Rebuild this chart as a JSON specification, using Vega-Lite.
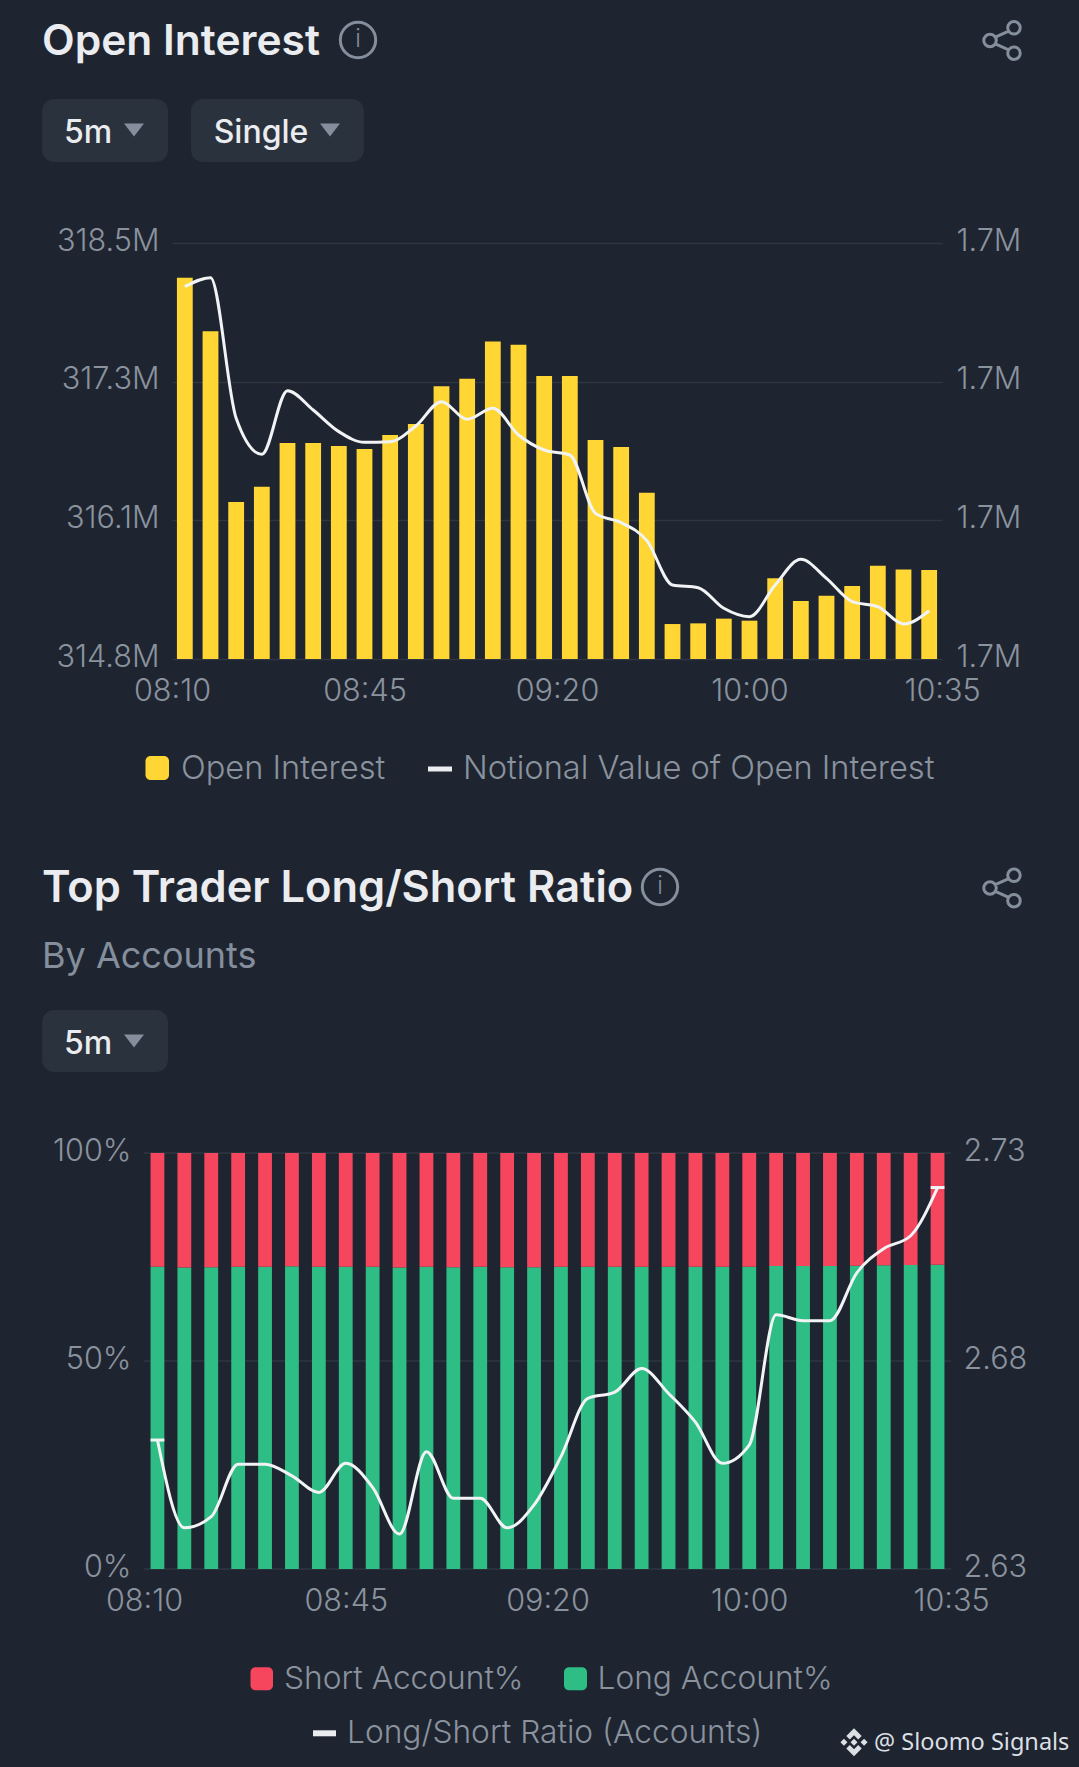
{"$schema":"https://vega.github.io/schema/vega-lite/v6.json","background":"#1e2530","padding":0,"autosize":{"type":"pad"},"bounds":"full","align":"none","spacing":0,"config":{"view":{"stroke":null},"font":"Inter","text":{"font":"Inter"},"axis":{"labelFont":"Inter","labelFontWeight":300,"labelFontSize":30.6,"labelColor":"#8a929e","domain":false,"ticks":false,"title":null}},
"datasets":{"oi":[
{"time":"08:10","openInterest":318232000,"notional":1732130},{"time":"08:15","openInterest":317754000,"notional":1733750},{"time":"08:20","openInterest":316236000,"notional":1708390},{"time":"08:25","openInterest":316373000,"notional":1701900},{"time":"08:30","openInterest":316761000,"notional":1713380},{"time":"08:35","openInterest":316761000,"notional":1709890},{"time":"08:40","openInterest":316734000,"notional":1705990},{"time":"08:45","openInterest":316708000,"notional":1704060},{"time":"08:50","openInterest":316832000,"notional":1704180},{"time":"08:55","openInterest":316930000,"notional":1707010},{"time":"09:00","openInterest":317265000,"notional":1711400},{"time":"09:05","openInterest":317333000,"notional":1708210},{"time":"09:10","openInterest":317665000,"notional":1710190},{"time":"09:15","openInterest":317636000,"notional":1705390},{"time":"09:20","openInterest":317357000,"notional":1702680},{"time":"09:25","openInterest":317357000,"notional":1701780},{"time":"09:30","openInterest":316788000,"notional":1691260},{"time":"09:35","openInterest":316726000,"notional":1689580},{"time":"09:40","openInterest":316319000,"notional":1686340},{"time":"09:45","openInterest":315151000,"notional":1678340},{"time":"09:50","openInterest":315157000,"notional":1677860},{"time":"09:55","openInterest":315199000,"notional":1674140},{"time":"10:00","openInterest":315181000,"notional":1672630},{"time":"10:05","openInterest":315558000,"notional":1678340},{"time":"10:10","openInterest":315356000,"notional":1682970},{"time":"10:15","openInterest":315403000,"notional":1679540},{"time":"10:20","openInterest":315489000,"notional":1675340},{"time":"10:25","openInterest":315670000,"notional":1674440},{"time":"10:30","openInterest":315635000,"notional":1671310},{"time":"10:35","openInterest":315632000,"notional":1673710}],
"ratio":[
{"time":"08:10","ratio":2.6610},{"time":"08:15","ratio":2.6399},{"time":"08:20","ratio":2.6426},{"time":"08:25","ratio":2.6552},{"time":"08:30","ratio":2.6552},{"time":"08:35","ratio":2.6524},{"time":"08:40","ratio":2.6484},{"time":"08:45","ratio":2.6554},{"time":"08:50","ratio":2.6496},{"time":"08:55","ratio":2.6384},{"time":"09:00","ratio":2.6582},{"time":"09:05","ratio":2.6470},{"time":"09:10","ratio":2.6470},{"time":"09:15","ratio":2.6399},{"time":"09:20","ratio":2.6454},{"time":"09:25","ratio":2.6570},{"time":"09:30","ratio":2.6710},{"time":"09:35","ratio":2.6725},{"time":"09:40","ratio":2.6782},{"time":"09:45","ratio":2.6722},{"time":"09:50","ratio":2.6653},{"time":"09:55","ratio":2.6554},{"time":"10:00","ratio":2.6598},{"time":"10:05","ratio":2.6911},{"time":"10:10","ratio":2.6897},{"time":"10:15","ratio":2.6897},{"time":"10:20","ratio":2.7012},{"time":"10:25","ratio":2.7070},{"time":"10:30","ratio":2.7101},{"time":"10:35","ratio":2.7217}],
"accounts":[
{"time":"08:10","series":"Long Account%","pct":72.68},{"time":"08:15","series":"Long Account%","pct":72.45},{"time":"08:20","series":"Long Account%","pct":72.52},{"time":"08:25","series":"Long Account%","pct":72.68},{"time":"08:30","series":"Long Account%","pct":72.68},{"time":"08:35","series":"Long Account%","pct":72.76},{"time":"08:40","series":"Long Account%","pct":72.68},{"time":"08:45","series":"Long Account%","pct":72.68},{"time":"08:50","series":"Long Account%","pct":72.68},{"time":"08:55","series":"Long Account%","pct":72.45},{"time":"09:00","series":"Long Account%","pct":72.68},{"time":"09:05","series":"Long Account%","pct":72.52},{"time":"09:10","series":"Long Account%","pct":72.68},{"time":"09:15","series":"Long Account%","pct":72.52},{"time":"09:20","series":"Long Account%","pct":72.52},{"time":"09:25","series":"Long Account%","pct":72.68},{"time":"09:30","series":"Long Account%","pct":72.68},{"time":"09:35","series":"Long Account%","pct":72.68},{"time":"09:40","series":"Long Account%","pct":72.68},{"time":"09:45","series":"Long Account%","pct":72.68},{"time":"09:50","series":"Long Account%","pct":72.68},{"time":"09:55","series":"Long Account%","pct":72.68},{"time":"10:00","series":"Long Account%","pct":72.68},{"time":"10:05","series":"Long Account%","pct":72.84},{"time":"10:10","series":"Long Account%","pct":72.84},{"time":"10:15","series":"Long Account%","pct":72.84},{"time":"10:20","series":"Long Account%","pct":72.92},{"time":"10:25","series":"Long Account%","pct":73.0},{"time":"10:30","series":"Long Account%","pct":73.08},{"time":"10:35","series":"Long Account%","pct":73.16},
{"time":"08:10","series":"Short Account%","pct":27.32},{"time":"08:15","series":"Short Account%","pct":27.55},{"time":"08:20","series":"Short Account%","pct":27.48},{"time":"08:25","series":"Short Account%","pct":27.32},{"time":"08:30","series":"Short Account%","pct":27.32},{"time":"08:35","series":"Short Account%","pct":27.24},{"time":"08:40","series":"Short Account%","pct":27.32},{"time":"08:45","series":"Short Account%","pct":27.32},{"time":"08:50","series":"Short Account%","pct":27.32},{"time":"08:55","series":"Short Account%","pct":27.55},{"time":"09:00","series":"Short Account%","pct":27.32},{"time":"09:05","series":"Short Account%","pct":27.48},{"time":"09:10","series":"Short Account%","pct":27.32},{"time":"09:15","series":"Short Account%","pct":27.48},{"time":"09:20","series":"Short Account%","pct":27.48},{"time":"09:25","series":"Short Account%","pct":27.32},{"time":"09:30","series":"Short Account%","pct":27.32},{"time":"09:35","series":"Short Account%","pct":27.32},{"time":"09:40","series":"Short Account%","pct":27.32},{"time":"09:45","series":"Short Account%","pct":27.32},{"time":"09:50","series":"Short Account%","pct":27.32},{"time":"09:55","series":"Short Account%","pct":27.32},{"time":"10:00","series":"Short Account%","pct":27.32},{"time":"10:05","series":"Short Account%","pct":27.16},{"time":"10:10","series":"Short Account%","pct":27.16},{"time":"10:15","series":"Short Account%","pct":27.16},{"time":"10:20","series":"Short Account%","pct":27.08},{"time":"10:25","series":"Short Account%","pct":27.0},{"time":"10:30","series":"Short Account%","pct":26.92},{"time":"10:35","series":"Short Account%","pct":26.84}]},
"vconcat":[
{"width":907,"height":226,
"data":{"values":[{"slot":0,"kind":"title","label":"Open Interest"},{"slot":1,"kind":"info","label":"i"},{"slot":2,"kind":"share"},{"slot":3,"kind":"btn","label":"5m"},{"slot":4,"kind":"btn","label":"Single"},{"slot":5,"kind":"tri"},{"slot":6,"kind":"tri"},{"slot":7,"slotEnd":8,"kind":"box"},{"slot":9,"slotEnd":10,"kind":"box"}]},
"encoding":{"x":{"field":"slot","type":"quantitative","axis":null,"scale":{"domain":[0,1,2,3,4,5,6,7,8,9,10],"range":[-130,186,830,-84,89,-38,158,-129.8,-4,19,191.8],"zero":false,"nice":false}},"y":{"field":"slot","type":"quantitative","axis":null,"scale":{"domain":[0,1,2,3,4,5,6,7,8,9,10],"range":[42,40,40.5,133,133,130,130,99,162,99,162],"zero":false,"nice":false}}},
"layer":[
{"transform":[{"filter":"datum.kind==='box'"}],"mark":{"type":"rect","color":"#2a323e","cornerRadius":12},"encoding":{"x2":{"field":"slotEnd"},"y2":{"field":"slotEnd"}}},
{"transform":[{"filter":"datum.kind==='title'"}],"mark":{"type":"text","align":"left","baseline":"middle","fontSize":42.5,"fontWeight":600,"color":"#eaecef"},"encoding":{"text":{"field":"label"}}},
{"transform":[{"filter":"datum.kind==='btn'"}],"mark":{"type":"text","align":"center","baseline":"middle","fontSize":32,"fontWeight":500,"color":"#eaecef"},"encoding":{"text":{"field":"label"}}},
{"transform":[{"filter":"datum.kind==='info'"}],"mark":{"type":"point","shape":"circle","size":1250,"filled":false,"stroke":"#848e9c","strokeWidth":3,"opacity":1}},
{"transform":[{"filter":"datum.kind==='info'"}],"mark":{"type":"text","align":"center","baseline":"middle","fontSize":24,"fontWeight":300,"color":"#848e9c"},"encoding":{"text":{"field":"label"}}},
{"transform":[{"filter":"datum.kind==='tri'"}],"mark":{"type":"point","shape":"M -1 -0.65 L 1 -0.65 L 0 0.65 Z","size":400,"filled":true,"fill":"#848e9c","opacity":1}},
{"transform":[{"filter":"datum.kind==='share'"}],"mark":{"type":"point","filled":false,"stroke":"#848e9c","strokeWidth":3,"opacity":1,"size":1444,"shape":"M -0.3 0 C -0.3 0.18 -0.45 0.33 -0.63 0.33 C -0.81 0.33 -0.96 0.18 -0.96 0 C -0.96 -0.18 -0.81 -0.33 -0.63 -0.33 C -0.45 -0.33 -0.3 -0.18 -0.3 0 Z M 0.96 -0.67 C 0.96 -0.49 0.81 -0.34 0.63 -0.34 C 0.45 -0.34 0.3 -0.49 0.3 -0.67 C 0.3 -0.85 0.45 -1 0.63 -1 C 0.81 -1 0.96 -0.85 0.96 -0.67 Z M 0.96 0.67 C 0.96 0.85 0.81 1 0.63 1 C 0.45 1 0.3 0.85 0.3 0.67 C 0.3 0.49 0.45 0.34 0.63 0.34 C 0.81 0.34 0.96 0.49 0.96 0.67 Z M -0.35 -0.18 L 0.35 -0.49 M -0.35 0.18 L 0.35 0.49"}}
]},
{"width":770,"height":416,"resolve":{"scale":{"x":"independent","y":"independent"}},
"layer":[
{"data":{"name":"oi"},"mark":{"type":"bar","color":"#ffd633","width":15.8,"clip":true},"encoding":{"x":{"field":"time","type":"ordinal","sort":null,"axis":null,"scale":{"type":"band","paddingInner":0,"paddingOuter":0}},"y":{"field":"openInterest","type":"quantitative","stack":null,"scale":{"domain":[314840000,318540000],"zero":false,"nice":false},"axis":{"orient":"left","values":[314840000,316073333,317306667,318540000],"format":".4s","gridColor":"#2e3642","grid":true,"gridWidth":1.5,"labelPadding":13,"minExtent":172,"maxExtent":172,"labelOffset":-2}}}},
{"data":{"name":"oi"},"mark":{"type":"line","color":"#f2f3f5","strokeWidth":3,"interpolate":"monotone"},"encoding":{"x":{"field":"time","type":"ordinal","sort":null,"axis":null,"scale":{"type":"point","padding":0.5}},"y":{"field":"notional","type":"quantitative","scale":{"domain":[1665000,1740000],"zero":false,"nice":false},"axis":{"orient":"right","values":[1665000,1690000,1715000,1740000],"format":".2s","grid":false,"labelPadding":14,"labelOffset":-2}}}},
{"data":{"values":[{"tick":"08:10"},{"tick":"08:45"},{"tick":"09:20"},{"tick":"10:00"},{"tick":"10:35"}]},"mark":{"type":"text","text":""},"encoding":{"x":{"field":"tick","type":"ordinal","sort":null,"scale":{"type":"point","padding":0},"axis":{"orient":"bottom","labelAngle":0,"labelAlign":"center","labelPadding":17,"labelOverlap":false,"labelFlush":false,"minExtent":60,"maxExtent":60,"grid":false}}}}
]},
{"width":907,"height":416.7,
"data":{"values":[{"slot":0,"slotEnd":1,"kind":"chipYellow"},{"slot":2,"kind":"legend","label":"Open Interest"},{"slot":3,"slotEnd":4,"kind":"dash"},{"slot":5,"kind":"legend","label":"Notional Value of Open Interest"},{"slot":6,"kind":"title","label":"Top Trader Long/Short Ratio"},{"slot":7,"kind":"info","label":"i"},{"slot":8,"kind":"share"},{"slot":9,"kind":"sub","label":"By Accounts"},{"slot":10,"slotEnd":11,"kind":"box"},{"slot":12,"kind":"btn","label":"5m"},{"slot":13,"kind":"tri"}]},
"encoding":{"x":{"field":"slot","type":"quantitative","axis":null,"scale":{"domain":[0,1,2,3,4,5,6,7,8,9,10,11,12,13],"range":[-26.5,-3,9,256,280,291,-130,488,830,-130,-129.8,-4,-84,-38],"zero":false,"nice":false}},"y":{"field":"slot","type":"quantitative","axis":null,"scale":{"domain":[0,1,2,3,4,5,6,7,8,9,10,11,12,13],"range":[37,61,50,47.5,52.5,50,170,168,169,238,291,353,325,322],"zero":false,"nice":false}}},
"layer":[
{"transform":[{"filter":"datum.kind==='box'"}],"mark":{"type":"rect","color":"#2a323e","cornerRadius":12},"encoding":{"x2":{"field":"slotEnd"},"y2":{"field":"slotEnd"}}},
{"transform":[{"filter":"datum.kind==='chipYellow'"}],"mark":{"type":"rect","color":"#ffd633","cornerRadius":5},"encoding":{"x2":{"field":"slotEnd"},"y2":{"field":"slotEnd"}}},
{"transform":[{"filter":"datum.kind==='dash'"}],"mark":{"type":"rect","color":"#eaecef"},"encoding":{"x2":{"field":"slotEnd"},"y2":{"field":"slotEnd"}}},
{"transform":[{"filter":"datum.kind==='legend'"}],"mark":{"type":"text","align":"left","baseline":"middle","fontSize":32.6,"fontWeight":300,"color":"#8a929e"},"encoding":{"text":{"field":"label"}}},
{"transform":[{"filter":"datum.kind==='title'"}],"mark":{"type":"text","align":"left","baseline":"middle","fontSize":43.4,"fontWeight":600,"color":"#eaecef"},"encoding":{"text":{"field":"label"}}},
{"transform":[{"filter":"datum.kind==='sub'"}],"mark":{"type":"text","align":"left","baseline":"middle","fontSize":36,"fontWeight":400,"color":"#848e9c"},"encoding":{"text":{"field":"label"}}},
{"transform":[{"filter":"datum.kind==='btn'"}],"mark":{"type":"text","align":"center","baseline":"middle","fontSize":32,"fontWeight":500,"color":"#eaecef"},"encoding":{"text":{"field":"label"}}},
{"transform":[{"filter":"datum.kind==='info'"}],"mark":{"type":"point","shape":"circle","size":1250,"filled":false,"stroke":"#848e9c","strokeWidth":3,"opacity":1}},
{"transform":[{"filter":"datum.kind==='info'"}],"mark":{"type":"text","align":"center","baseline":"middle","fontSize":24,"fontWeight":300,"color":"#848e9c"},"encoding":{"text":{"field":"label"}}},
{"transform":[{"filter":"datum.kind==='tri'"}],"mark":{"type":"point","shape":"M -1 -0.65 L 1 -0.65 L 0 0.65 Z","size":400,"filled":true,"fill":"#848e9c","opacity":1}},
{"transform":[{"filter":"datum.kind==='share'"}],"mark":{"type":"point","filled":false,"stroke":"#848e9c","strokeWidth":3,"opacity":1,"size":1444,"shape":"M -0.3 0 C -0.3 0.18 -0.45 0.33 -0.63 0.33 C -0.81 0.33 -0.96 0.18 -0.96 0 C -0.96 -0.18 -0.81 -0.33 -0.63 -0.33 C -0.45 -0.33 -0.3 -0.18 -0.3 0 Z M 0.96 -0.67 C 0.96 -0.49 0.81 -0.34 0.63 -0.34 C 0.45 -0.34 0.3 -0.49 0.3 -0.67 C 0.3 -0.85 0.45 -1 0.63 -1 C 0.81 -1 0.96 -0.85 0.96 -0.67 Z M 0.96 0.67 C 0.96 0.85 0.81 1 0.63 1 C 0.45 1 0.3 0.85 0.3 0.67 C 0.3 0.49 0.45 0.34 0.63 0.34 C 0.81 0.34 0.96 0.49 0.96 0.67 Z M -0.35 -0.18 L 0.35 -0.49 M -0.35 0.18 L 0.35 0.49"}}
]},
{"width":779,"height":416,"resolve":{"scale":{"x":"independent","y":"independent"}},
"layer":[
{"data":{"values":[{"level":0},{"level":50},{"level":100}]},"mark":{"type":"rule","color":"#2e3642","strokeWidth":1.5},"encoding":{"x":{"datum":0,"type":"quantitative","axis":null,"scale":{"domain":[0,1],"range":[-28,779]}},"x2":{"datum":1},"y":{"field":"level","type":"quantitative","axis":null,"scale":{"domain":[0,100],"nice":false}}}},
{"data":{"name":"accounts"},"mark":{"type":"bar","width":13.8},"encoding":{"x":{"field":"time","type":"ordinal","sort":null,"axis":null,"scale":{"type":"band","paddingInner":0,"paddingOuter":0,"range":[-28,779]}},"y":{"field":"pct","type":"quantitative","stack":"zero","scale":{"domain":[0,100],"nice":false},"axis":{"orient":"left","values":[0,50,100],"labelExpr":"datum.value+'%'","grid":false,"labelPadding":41,"minExtent":172,"maxExtent":172,"labelOffset":-2}},"color":{"field":"series","type":"nominal","legend":null,"scale":{"domain":["Short Account%","Long Account%"],"range":["#f6465d","#2ebd85"]}},"order":{"field":"pct","sort":"descending"}}},
{"data":{"name":"ratio"},"mark":{"type":"line","color":"#f2f3f5","strokeWidth":3,"interpolate":"monotone"},"encoding":{"x":{"field":"time","type":"ordinal","sort":null,"axis":null,"scale":{"type":"point","padding":0.5,"range":[-28,779]}},"y":{"field":"ratio","type":"quantitative","scale":{"domain":[2.63,2.73],"zero":false,"nice":false},"axis":{"orient":"right","values":[2.63,2.68,2.73],"format":".2f","grid":false,"labelPadding":12,"labelOffset":-2}}}},
{"data":{"name":"ratio"},"transform":[{"filter":"datum.time==='08:10'||datum.time==='10:35'"}],"mark":{"type":"tick","color":"#f2f3f5","size":13.8,"thickness":3,"opacity":1},"encoding":{"x":{"field":"time","type":"ordinal","sort":null,"axis":null,"scale":{"type":"point","padding":0,"range":[-14.55,765.55]}},"y":{"field":"ratio","type":"quantitative","axis":null,"scale":{"domain":[2.63,2.73],"zero":false,"nice":false}}}},
{"data":{"values":[{"tick":"08:10"},{"tick":"08:45"},{"tick":"09:20"},{"tick":"10:00"},{"tick":"10:35"}]},"mark":{"type":"text","text":""},"encoding":{"x":{"field":"tick","type":"ordinal","sort":null,"scale":{"type":"point","padding":0,"range":[-28,779]},"axis":{"orient":"bottom","labelAngle":0,"labelAlign":"center","labelPadding":17,"labelOverlap":false,"labelFlush":false,"minExtent":60,"maxExtent":60,"grid":false}}}}
]},
{"width":907,"height":138,
"data":{"values":[{"slot":0,"slotEnd":1,"kind":"chipRed"},{"slot":2,"kind":"legend","label":"Short Account%"},{"slot":3,"slotEnd":4,"kind":"chipGreen"},{"slot":5,"kind":"legend","label":"Long Account%"},{"slot":6,"slotEnd":7,"kind":"dash"},{"slot":8,"kind":"legend","label":"Long/Short Ratio (Accounts)"},{"slot":9,"kind":"logo"},{"slot":10,"kind":"mark","label":"@ Sloomo Signals"}]},
"encoding":{"x":{"field":"slot","type":"quantitative","axis":null,"scale":{"domain":[0,1,2,3,4,5,6,7,8,9,10],"range":[78.5,101,112,392,415,425.5,141,164,175,682,702],"zero":false,"nice":false}},"y":{"field":"slot","type":"quantitative","axis":null,"scale":{"domain":[0,1,2,3,4,5,6,7,8,9,10],"range":[38.3,61.3,50.3,38.3,61.3,50.3,101.3,107.3,104.3,113.3,114.3],"zero":false,"nice":false}}},
"layer":[
{"transform":[{"filter":"datum.kind==='chipRed'"}],"mark":{"type":"rect","color":"#f6465d","cornerRadius":5},"encoding":{"x2":{"field":"slotEnd"},"y2":{"field":"slotEnd"}}},
{"transform":[{"filter":"datum.kind==='chipGreen'"}],"mark":{"type":"rect","color":"#2ebd85","cornerRadius":5},"encoding":{"x2":{"field":"slotEnd"},"y2":{"field":"slotEnd"}}},
{"transform":[{"filter":"datum.kind==='dash'"}],"mark":{"type":"rect","color":"#eaecef"},"encoding":{"x2":{"field":"slotEnd"},"y2":{"field":"slotEnd"}}},
{"transform":[{"filter":"datum.kind==='legend'"}],"mark":{"type":"text","align":"left","baseline":"middle","fontSize":31.7,"fontWeight":300,"color":"#8a929e"},"encoding":{"text":{"field":"label"}}},
{"transform":[{"filter":"datum.kind==='mark'"}],"mark":{"type":"text","align":"left","baseline":"middle","font":"Noto Sans","fontSize":23.5,"color":"#dcdfe3"},"encoding":{"text":{"field":"label"}}},
{"transform":[{"filter":"datum.kind==='logo'"}],"mark":{"type":"point","filled":true,"fill":"#dcdfe3","opacity":1,"size":784,"shape":"M 0 -1 L 0.55 -0.45 L 0.3 -0.2 L 0 -0.5 L -0.3 -0.2 L -0.55 -0.45 Z M 0 1 L 0.55 0.45 L 0.3 0.2 L 0 0.5 L -0.3 0.2 L -0.55 0.45 Z M 0 -0.25 L 0.25 0 L 0 0.25 L -0.25 0 Z M 0.72 -0.25 L 0.97 0 L 0.72 0.25 L 0.47 0 Z M -0.72 -0.25 L -0.47 0 L -0.72 0.25 L -0.97 0 Z"}}
]}
]}
